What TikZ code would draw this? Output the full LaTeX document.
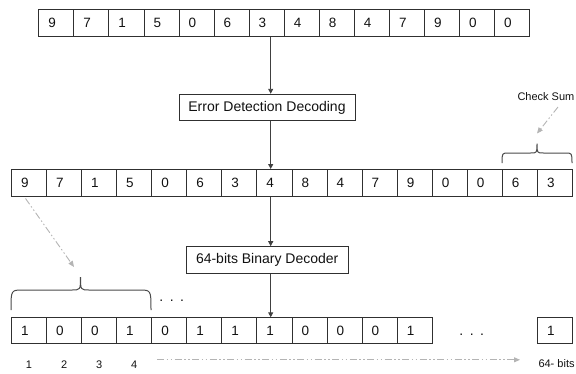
\documentclass[tikz,border=0pt]{standalone}
\usepackage{fontspec}
\setmainfont{Liberation Sans}
\usetikzlibrary{arrows.meta,calc}

\definecolor{boxline}{HTML}{303030}
\definecolor{flowline}{HTML}{404040}
\definecolor{hintline}{HTML}{B4B4B4}
\definecolor{braceline}{HTML}{4A4A4A}
\definecolor{ink}{HTML}{111111}

\begin{document}
\begin{tikzpicture}[x=1pt,y=-1pt,
  cell/.style={draw=boxline, line width=1pt, anchor=north west,
    inner xsep=9.5pt, inner ysep=0pt, text width=16.07pt, align=left,
    text=ink, font=\fontsize{13.5}{14}\selectfont},
  stagebox/.style={draw=boxline, line width=1pt, inner sep=0pt,
    text=ink, font=\fontsize{14}{16}\selectfont},
  flow/.style={draw=flowline, line width=0.9pt,
    -{Triangle[length=5pt,width=5pt]}},
  hint/.style={draw=hintline, line width=0.9pt,
    dash pattern=on 7pt off 2.5pt on 1.5pt off 2.5pt on 1.5pt off 2.5pt,
    -{Triangle[length=6pt,width=5pt,fill=hintline]}},
  bracket/.style={draw=braceline, line width=1pt},
  note/.style={text=ink, inner sep=0pt, font=\fontsize{11}{13}\selectfont},
  dots/.style={text=ink, inner sep=0pt, font=\fontsize{14}{16}\selectfont}
]
\useasboundingbox (0,0) rectangle (576,373);

% encoded digit string
\foreach \d [count=\i] in {9,7,1,5,0,6,3,4,8,4,7,9,0,0}
  \node[cell, minimum height=26.4pt] (ra\i) at ({38.3+(\i-1)*35.07},9.3) {\d};

% decoded digits followed by the check sum
\foreach \d [count=\i] in {9,7,1,5,0,6,3,4,8,4,7,9,0,0,6,3}
  \node[cell, minimum height=27pt] (rb\i) at ({11+(\i-1)*35.07},169) {\d};

% binary output
\foreach \d [count=\i] in {1,0,0,1,0,1,1,1,0,0,0,1}
  \node[cell, minimum height=25.4pt] (rc\i) at ({11+(\i-1)*35.07},317.3) {\d};
\node[cell, minimum height=25.4pt] (rcend) at (537,317.3) {1};

% processing stages
\node[stagebox, minimum width=176pt, minimum height=26.4pt] (errbox) at (267,107.5)
  {Error Detection Decoding};
\node[stagebox, minimum width=162.3pt, minimum height=26.6pt] (binbox) at (267.2,260)
  {64-bits Binary Decoder};

% main data path
\coordinate (axis) at (270.7,0);
\draw[flow] (ra7.south -| axis) -- (errbox.north -| axis);
\draw[flow] (errbox.south -| axis) -- (rb8.north -| axis);
\draw[flow] (rb8.south -| axis) -- (binbox.north -| axis);
\draw[flow] (binbox.south -| axis) -- (rc8.north -| axis);

% check sum brace and label
\draw[bracket] (502,163) .. controls (502,153) .. (509,153) -- (530.5,153)
  .. controls (537,153) .. (537,143.5)
  .. controls (537,153) .. (543.5,153) -- (565,153)
  .. controls (572,153) .. (572,163);
\node[note, anchor=west] (cslabel) at (517.3,96.7) {Check Sum};
\coordinate (csfrom) at (558,107);
\coordinate (csto) at (537,133.5);
\draw[hint] (csfrom) -- (csto);

% first digit expands into four bits
\draw[bracket] (11,310) .. controls (11,290) .. (23,290) -- (71.5,290)
  .. controls (80.5,290) .. (80.5,277)
  .. controls (80.5,290) .. (89.5,290) -- (139,290)
  .. controls (151,290) .. (151,310);
\coordinate (digitfrom) at ($(rb1.south)+(-3.5,1.5)$);
\coordinate (digitto) at (74,267);
\draw[hint] (digitfrom) -- (digitto);

\node[dots] (dotsa) at (171.7,300.7) {.\hspace{6.5pt}.\hspace{6.5pt}.};
\node[dots] (dotsb) at (471.7,335) {.\hspace{6.5pt}.\hspace{6.5pt}.};

% bit positions
\foreach \i in {1,...,4}
  \node[note] (pos\i) at ($(rc\i.south)+(0,20.6)$) {\i};
\node[note, anchor=west] (poslast) at (538.3,363.3) {64- bits};
\coordinate (bitsfrom) at (157,359.8);
\coordinate (bitsto) at (520,359.8);
\draw[hint] (bitsfrom) -- (bitsto);
\end{tikzpicture}
\end{document}
